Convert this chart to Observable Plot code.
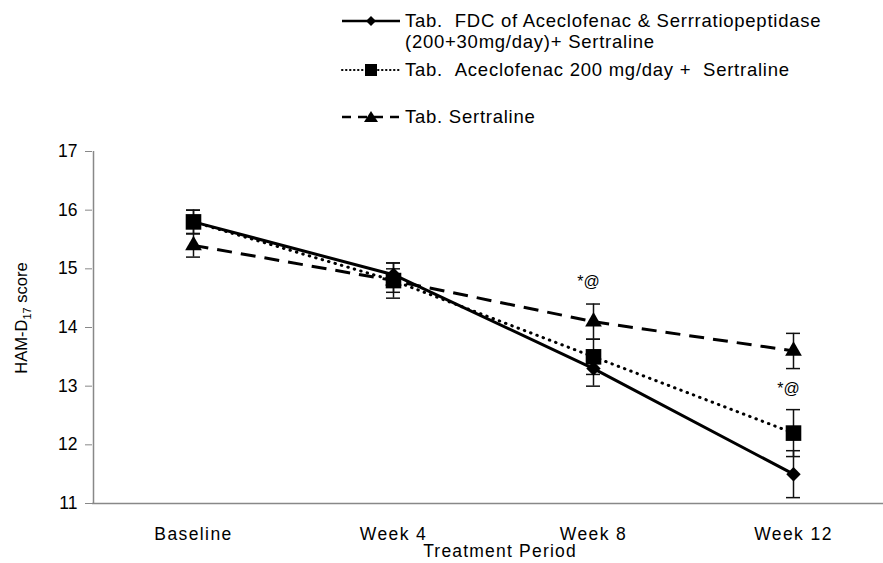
<!DOCTYPE html>
<html><head><meta charset="utf-8">
<script src="https://cdn.jsdelivr.net/npm/d3@7"></script>
<script src="https://cdn.jsdelivr.net/npm/@observablehq/plot@0.6"></script>
<style>
body{margin:0;background:#fff;font-family:"Liberation Sans",Arial,sans-serif;}
#wrap{position:relative;width:883px;height:563px;}
#legend{position:relative;width:883px;height:140px;}
.li{position:absolute;font-size:18.5px;color:#000;line-height:21px;white-space:nowrap;letter-spacing:0.75px;}
.sym{position:absolute;}
#chart{position:absolute;left:0;top:140px;}
</style></head>
<body><div id="wrap"><div id="legend"></div><div id="chart"></div></div>
<script>
const categories = ["Baseline", "Week 4", "Week 8", "Week 12"];
const seriesNames = [
  "Tab.  FDC of Aceclofenac & Serrratiopeptidase\n(200+30mg/day)+ Sertraline",
  "Tab.  Aceclofenac 200 mg/day +  Sertraline",
  "Tab. Sertraline"
];
const fdcMean = [15.8, 14.9, 13.3, 11.5];
const fdcErr  = [0.2, 0.2, 0.3, 0.4];
const aceMean = [15.8, 14.8, 13.5, 12.2];
const aceErr  = [0.2, 0.3, 0.3, 0.4];
const serMean = [15.4, 14.8, 14.1, 13.6];
const serErr  = [0.2, 0.2, 0.3, 0.3];
const yTicks = [11, 12, 13, 14, 15, 16, 17];
const annotations = [
  {cat: "Week 8", y: 14.78, label: "*@"},
  {cat: "Week 12", y: 12.95, label: "*@"}
];

const styles = [
  {dash: null, symbol: "diamond2", r: 6.5, width: 3, cap: "butt"},
  {dash: "0.5,6.2", symbol: "square", r: 8.8, width: 3, cap: "round"},
  {dash: "15,9", symbol: "triangle", r: 6.2, width: 3, cap: "butt"}
];
const means = [fdcMean, aceMean, serMean];
const errs = [fdcErr, aceErr, serErr];
const rows = [];
means.forEach((m, s) => m.forEach((v, i) => rows.push({s, i, cat: categories[i], v, e: errs[s][i]})));

const cap = 0.035;
const marks = [
  Plot.ruleY([11], {stroke: "#888", strokeWidth: 1.5}),
  Plot.ruleX([-0.5], {y1: 11, y2: 17, stroke: "#888", strokeWidth: 1.5}),
  Plot.axisY({ticks: yTicks, tickSize: 7, tickPadding: 8, fontSize: 17.5, stroke: "#888", label: null, tickFormat: d => d}),
  Plot.axisX({ticks: categories.map((c, i) => i), tickFormat: i => categories[i], tickSize: 0, tickPadding: 24, fontSize: 17.5, label: null}),
  Plot.ruleX(rows, {x: "i", y1: d => d.v - d.e, y2: d => d.v + d.e, stroke: "#111", strokeWidth: 1.5}),
  Plot.ruleY(rows, {y: d => d.v - d.e, x1: d => d.i - cap, x2: d => d.i + cap, stroke: "#111", strokeWidth: 1.5}),
  Plot.ruleY(rows, {y: d => d.v + d.e, x1: d => d.i - cap, x2: d => d.i + cap, stroke: "#111", strokeWidth: 1.5}),
];
styles.forEach((st, s) => {
  const data = rows.filter(d => d.s === s);
  marks.push(Plot.line(data, {x: "i", y: "v", stroke: "#000", strokeWidth: st.width, strokeDasharray: st.dash, strokeLinecap: st.cap}));
});
styles.forEach((st, s) => {
  const data = rows.filter(d => d.s === s);
  marks.push(Plot.dot(data, {x: "i", y: "v", symbol: () => st.symbol, r: st.r, fill: "#000", stroke: "none"}));
});
marks.push(Plot.text(annotations, {x: d => categories.indexOf(d.cat), y: "y", text: "label", fontSize: 16, dx: -5}));
marks.push(Plot.text(["Treatment Period"], {frameAnchor: "bottom", dy: 53, dx: 12, fontSize: 17.5}));

const plot = Plot.plot({
  width: 883, height: 423,
  marginLeft: 92, marginRight: 0, marginTop: 11, marginBottom: 60,
  style: {fontFamily: "'Liberation Sans', Arial, sans-serif", color: "#000", background: "#fff"},
  x: {domain: [-0.5, 3.5], range: [93, 893]},
  y: {domain: [11, 17]},
  symbol: {type: "identity"},
  marks
});
document.getElementById("chart").appendChild(plot);

const svg = d3.select(plot);
svg.selectAll("g[aria-label='x-axis tick label'] text").attr("letter-spacing", "1.4px");
svg.selectAll("g[aria-label='text'] text").filter(function(){ return this.textContent === "Treatment Period"; }).attr("letter-spacing", "1.2px");

// y-axis title with subscript
const t = svg.append("text")
  .attr("transform", "translate(27,178) rotate(-90)")
  .attr("text-anchor", "middle")
  .attr("font-size", 16.5)
  .attr("font-family", "'Liberation Sans', Arial, sans-serif");
t.append("tspan").text("HAM-D");
t.append("tspan").attr("font-size", 11).attr("dy", 4).text("17");
t.append("tspan").attr("dy", -4).text(" score");

// legend
const legend = document.getElementById("legend");
const legendPos = [{y: 10, sy: 21}, {y: 59, sy: 70}, {y: 106, sy: 117}];
const symPaths = {
  diamond2: "M0,-5L5,0L0,5L-5,0Z",
  square: "M-6,-6H6V6H-6Z",
  triangle: "M0,-6L7,5H-7Z"
};
seriesNames.forEach((name, s) => {
  const st = styles[s];
  const ns = "http://www.w3.org/2000/svg";
  const sv = document.createElementNS(ns, "svg");
  sv.setAttribute("width", 62); sv.setAttribute("height", 20);
  sv.setAttribute("class", "sym");
  sv.style.left = "340px"; sv.style.top = (legendPos[s].sy - 10) + "px";
  const ln = document.createElementNS(ns, "line");
  ln.setAttribute("x1", 2); ln.setAttribute("x2", 60); ln.setAttribute("y1", 10); ln.setAttribute("y2", 10);
  ln.setAttribute("stroke", "#000"); ln.setAttribute("stroke-width", s === 1 ? 2 : 2.5);
  if (s === 1) { ln.setAttribute("stroke-dasharray", "0.5,3.5"); ln.setAttribute("stroke-linecap", "round"); }
  if (s === 2) ln.setAttribute("stroke-dasharray", "9,7");
  sv.appendChild(ln);
  const p = document.createElementNS(ns, "path");
  p.setAttribute("d", symPaths[st.symbol]);
  p.setAttribute("transform", `translate(31,10)`);
  p.setAttribute("fill", "#000");
  sv.appendChild(p);
  legend.appendChild(sv);
  const div = document.createElement("div");
  div.className = "li";
  div.style.left = "405px"; div.style.top = legendPos[s].y + "px";
  div.innerHTML = name.split("\n").map(l => l.replace(/&/g, "&amp;").replace(/ {2}/g, " &nbsp;")).join("<br>");
  legend.appendChild(div);
});
</script></body></html>
